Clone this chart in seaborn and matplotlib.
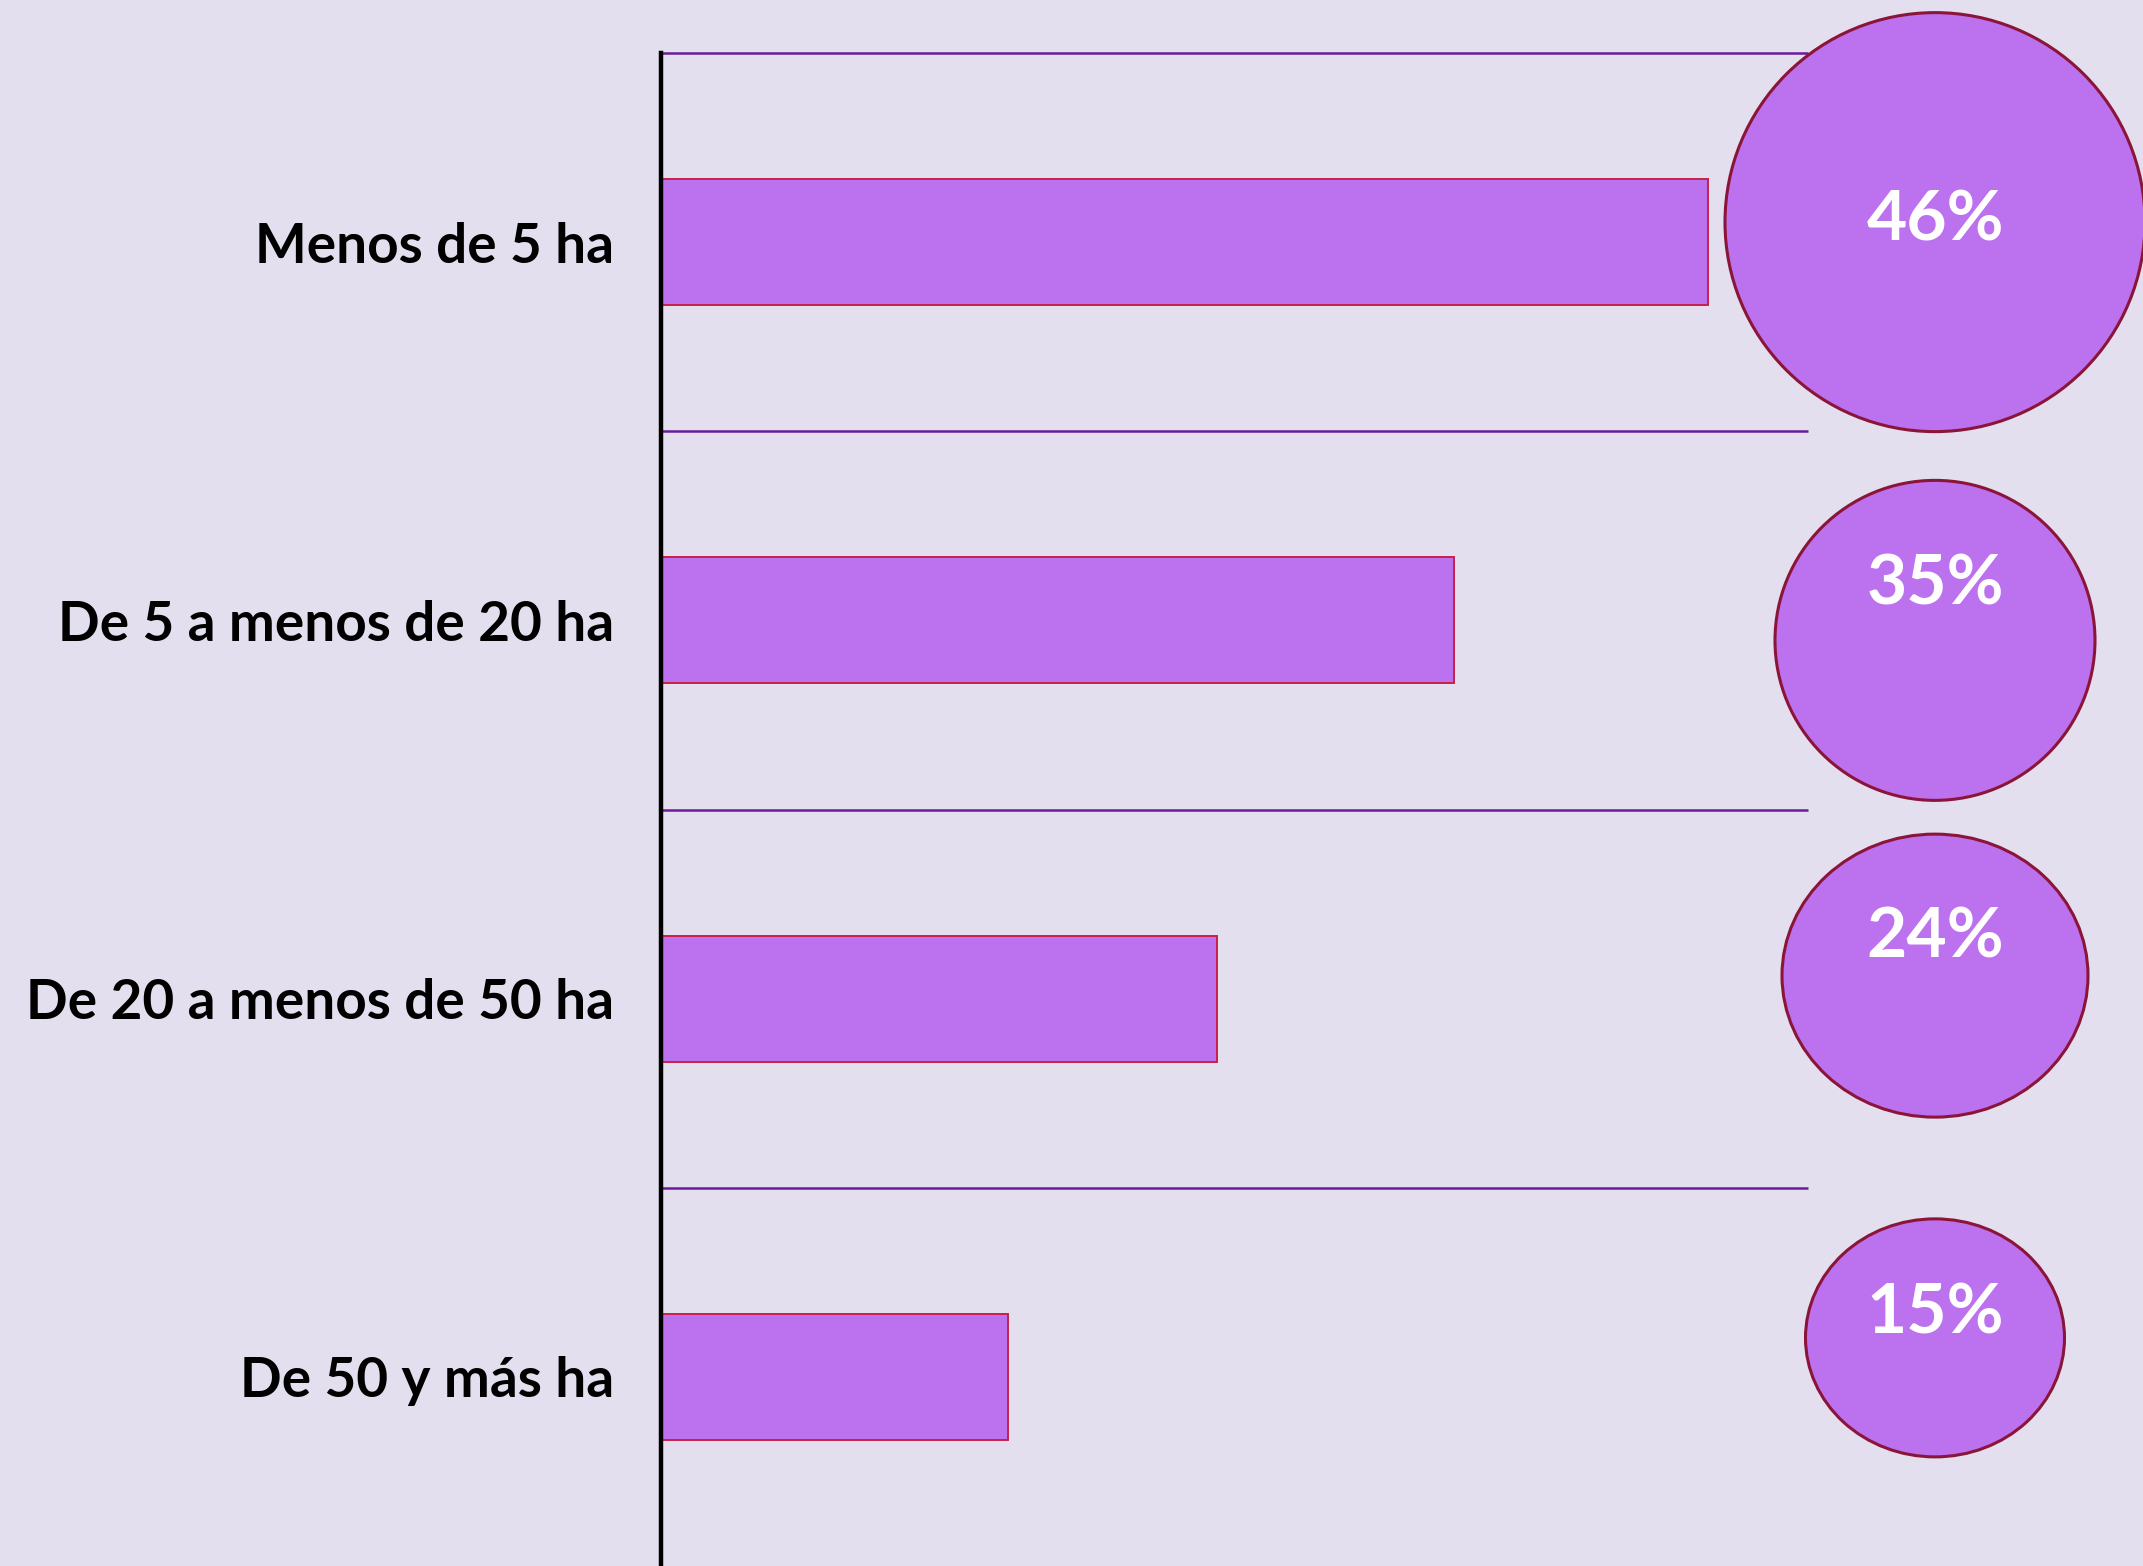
import matplotlib
matplotlib.use("Agg")
import matplotlib.pyplot as plt
from matplotlib.patches import Ellipse
import seaborn as sns
import pandas as pd

# ---- data ----
categories = ["Menos de 5 ha", "De 5 a menos de 20 ha", "De 20 a menos de 50 ha", "De 50 y más ha"]
values = [45.9, 34.8, 24.4, 15.2]
labels = ["46%", "35%", "24%", "15%"]

# ---- style ----
BG = "#E3DFEE"
BAR = "#BC71EF"
BAR_EDGE = "#C8204A"
GRID = "#6A1B9A"
CIRC_EDGE = "#8B1538"

W, H, DPI = 2143, 1566, 100
sns.set_theme(style="white")
plt.rcParams["font.family"] = ["Lato", "DejaVu Sans"]

fig = plt.figure(figsize=(W / DPI, H / DPI), dpi=DPI, facecolor=BG)
ax_left_px, ax_top_px = 661, 53
px_per_unit = 22.8
xmax = (W - ax_left_px) / px_per_unit
ax = fig.add_axes([ax_left_px / W, 0, (W - ax_left_px) / W, (H - ax_top_px) / H])
ax.set_facecolor(BG)

df = pd.DataFrame({"cat": categories, "val": values})
sns.barplot(data=df, x="val", y="cat", orient="h", color=BAR, width=0.333,
            edgecolor=BAR_EDGE, linewidth=1.4, saturation=1, ax=ax, zorder=3)

ax.set_xlim(0, xmax)
ax.set_ylim(3.5, -0.5)
ypx = (H - ax_top_px) / 4.0  # pixels per category

# separator lines
grid_end = (1808 - ax_left_px) / px_per_unit
ax.hlines([i - 0.5 for i in range(len(categories))], 0, grid_end,
          colors=GRID, linewidth=1.8, zorder=2, clip_on=False)

for s in ["top", "right", "bottom"]:
    ax.spines[s].set_visible(False)
ax.spines["left"].set_color("black")
ax.spines["left"].set_linewidth(3.2)
ax.spines["left"].set_zorder(5)
ax.set_xticks([])
ax.set_xlabel("")
ax.set_ylabel("")
ax.tick_params(axis="y", length=0, pad=34)
for t in ax.get_yticklabels():
    t.set_fontsize(39.5)
    t.set_fontweight("bold")
    t.set_color("black")

# bubbles with the percentages
circ_w = [420, 320, 306, 259]
circ_h = [419, 320, 283, 238]
circ_dy = [-20, 20, -23, -39]
text_dy = [-21, -35, -61, -63]
cx = (1935 - ax_left_px) / px_per_unit
for i, lab in enumerate(labels):
    e = Ellipse((cx, i + circ_dy[i] / ypx), circ_w[i] / px_per_unit, circ_h[i] / ypx,
                facecolor=BAR, edgecolor=CIRC_EDGE, linewidth=2.2, clip_on=False, zorder=4)
    ax.add_patch(e)
    ax.text(cx, i + text_dy[i] / ypx, lab, ha="center", va="center", color="white",
            fontsize=50, fontweight="bold", zorder=6, clip_on=False)

fig.savefig("out.png", dpi=DPI, facecolor=BG)
